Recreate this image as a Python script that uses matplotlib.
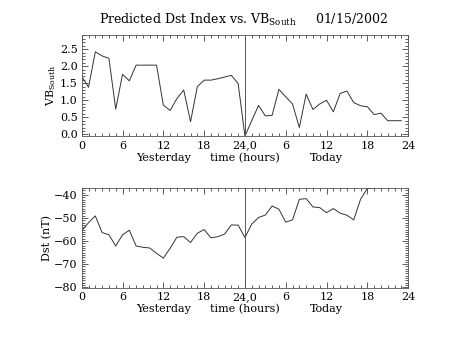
import matplotlib
matplotlib.use('Agg')
import matplotlib.pyplot as plt
import matplotlib.ticker as mticker
import matplotlib.transforms as mtransforms

plt.rcParams['font.family'] = 'DejaVu Serif'
plt.rcParams['mathtext.fontset'] = 'dejavuserif'

# VB south, hourly, yesterday 0h -> today 23h
vb_south = [1.70, 1.38, 2.42, 2.30, 2.23, 0.74, 1.76, 1.57, 2.03, 2.03,
            2.03, 2.03, 0.86, 0.70, 1.05, 1.30, 0.37, 1.40, 1.59, 1.59,
            1.63, 1.68, 1.73, 1.49,
            -0.05, 0.40, 0.85, 0.54, 0.56, 1.32, 1.10, 0.89, 0.20, 1.18,
            0.73, 0.89, 1.00, 0.66, 1.20, 1.27, 0.93, 0.84, 0.81, 0.58,
            0.62, 0.40, 0.40, 0.40]
hours_vb = list(range(len(vb_south)))

# Dst (nT), hourly
dst = [-55.6, -52.0, -49.1, -56.3, -57.3, -62.1, -57.3, -55.3, -62.1, -62.7,
       -63.0, -65.3, -67.4, -63.1, -58.3, -58.1, -60.6, -56.6, -55.0, -58.6,
       -58.1, -57.0, -53.0, -53.1,
       -58.5, -52.6, -49.8, -48.7, -44.8, -46.2, -51.8, -50.8, -41.9, -41.6,
       -45.2, -45.5, -47.7, -45.9, -47.9, -48.8, -50.8, -41.9, -37.2, -37.0]
hours_dst = list(range(len(dst)))

xticks = [0, 6, 12, 18, 24, 30, 36, 42, 48]
xticklabels = ['0', '6', '12', '18', '24,0', '6', '12', '18', '24']

fig = plt.figure(figsize=(4.54, 3.41), dpi=100)
ax1 = fig.add_axes([0.180, 0.600, 0.719, 0.298])
ax2 = fig.add_axes([0.180, 0.155, 0.719, 0.295])

line_col = '#333333'
fs = 8


def style(ax):
    ax.set_xlim(0, 48)
    ax.set_xticks(xticks)
    ax.set_xticklabels(xticklabels)
    ax.xaxis.set_minor_locator(mticker.MultipleLocator(1))
    ax.tick_params(which='both', direction='in', top=True, right=True,
                   labelsize=fs, width=0.6, colors='#444444', labelcolor='black')
    ax.tick_params(which='major', length=4, pad=3)
    ax.tick_params(which='minor', length=2)
    for s in ax.spines.values():
        s.set_linewidth(0.6)
        s.set_color('#555555')
    ax.axvline(24, color='#555555', linewidth=0.7)
    tr = mtransforms.blended_transform_factory(ax.transData, ax.transAxes)
    ax.text(12, -0.16, 'Yesterday', transform=tr, ha='center', va='top', fontsize=fs)
    ax.text(24, -0.16, 'time (hours)', transform=tr, ha='center', va='top', fontsize=fs)
    ax.text(36, -0.16, 'Today', transform=tr, ha='center', va='top', fontsize=fs)


ax1.plot(hours_vb, vb_south, color=line_col, linewidth=0.7)
style(ax1)
ax1.set_ylim(-0.06, 2.92)
ax1.set_yticks([0.0, 0.5, 1.0, 1.5, 2.0, 2.5])
ax1.yaxis.set_major_formatter(mticker.FormatStrFormatter('%.1f'))
ax1.yaxis.set_minor_locator(mticker.MultipleLocator(0.1))
ax1.set_ylabel(r'VB$_{\rm South}$', fontsize=fs, labelpad=1)

ax2.plot(hours_dst, dst, color=line_col, linewidth=0.7)
style(ax2)
ax2.set_ylim(-80.4, -36.8)
ax2.set_yticks([-80, -70, -60, -50, -40])
ax2.yaxis.set_minor_locator(mticker.MultipleLocator(1))
ax2.set_ylabel('Dst (nT)', fontsize=fs, labelpad=1)

fig.text(0.535, 0.930, r'Predicted Dst Index vs. VB$_{\rm South}$     01/15/2002',
         ha='center', va='baseline', fontsize=9)

fig.savefig('out.png', dpi=100)
